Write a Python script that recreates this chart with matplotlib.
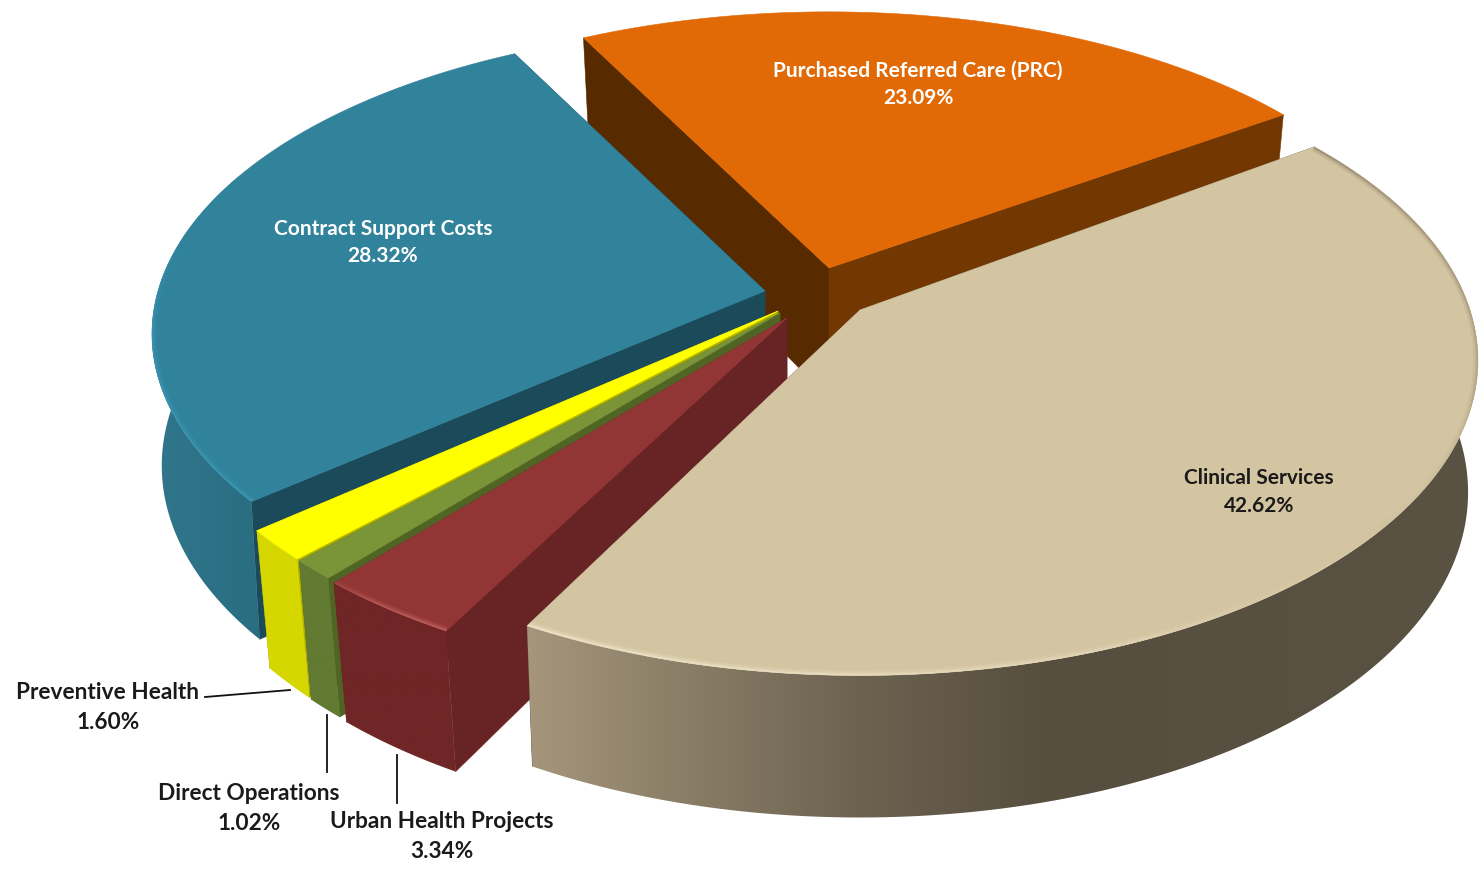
import numpy as np
import matplotlib
matplotlib.use("Agg")
import matplotlib.pyplot as plt
from matplotlib.collections import LineCollection
from matplotlib.patches import Polygon

# data, clockwise from the split between PRC and Clinical Services
names = ["Clinical Services", "Urban Health Projects", "Direct Operations",
         "Preventive Health", "Contract Support Costs", "Purchased Referred Care (PRC)"]
shares = [42.62, 3.34, 1.02, 1.60, 28.32, 23.09]

# colours
top_colors = ["#d4c5a2", "#923635", "#7a9438", "#ffff00", "#31829b", "#e26a06"]
start_wall_colors = ["#5a5040", "#682424", "#506423", "#b0b000", "#1b4b5a", "#582a00"]
end_wall_colors = ["#5a5040", "#682424", "#506423", "#b0b000", "#1b4b5a", "#733702"]
rim_colors = ["#f4ecd2", "#cf7070", "#94ae50", "#ffff60", "#3f9fbe", "#e26a06"]

# view of the exploded pie
START_ANGLE = 34.5
NUDGE = [1.0, 0, 0, 0, 0, 0]
K = [0.16, 0.14, 0.14, 0.14, 0.14, 0.14]
RX = [610, 618, 616, 616, 607, 595]
RY = [307, 314, 314, 314, 301, 292]
APEX_X = [860, 787, 780, 778, 765, 829]
APEX_Y = [310, 318, 313, 311, 291, 268]
TAPER = [0.016, 0.028, 0.025, 0.025, 0.016, 0.025]
DEPTH = 130
DEPTH_NEAR = 12


def project(theta, i):
    x = np.cos(theta)
    y = -np.sin(theta)  # y grows towards the viewer
    f = 1 / (1 - K[i] * y)
    return APEX_X[i] + RX[i] * x * f, APEX_Y[i] + RY[i] * y * f, y


def drop(px, py, y, i):
    # same point on the underside of the pie
    return px + (APEX_X[i] - px) * TAPER[i], py + DEPTH + DEPTH_NEAR * y


def mix(stops, pos):
    pos = np.asarray(pos)
    xs = [s[0] for s in stops]
    rgb = np.array([s[1] for s in stops], dtype=float) / 255
    return np.column_stack([np.interp(pos, xs, rgb[:, c]) for c in range(3)])


def wall_colors(i, u):
    if i == 0:
        return mix([(-0.55, (166, 150, 124)), (-0.25, (134, 122, 100)), (0.0, (108, 98, 80)),
                    (0.31, (86, 78, 62)), (1.1, (90, 82, 66))], u)
    if i == 1:
        return mix([(-1, (112, 38, 38)), (1, (112, 38, 38))], u)
    if i == 2:
        return mix([(-1, (98, 122, 50)), (1, (98, 122, 50))], u)
    if i == 3:
        return mix([(-1, (214, 214, 0)), (1, (214, 214, 0))], u)
    if i == 4:
        return mix([(-1.05, (50, 120, 142)), (-0.85, (42, 110, 130)), (1, (42, 110, 130))], u)
    return mix([(-1, (115, 55, 2)), (1, (115, 55, 2))], u)


def draw_slice(ax, i, a0, a1, z):
    theta = np.radians(np.linspace(a0, a1, 240) + NUDGE[i])
    px, py, y = project(theta, i)
    bx, by = drop(px, py, y, i)
    ax_, ay_ = APEX_X[i], APEX_Y[i]
    bax, bay = drop(ax_, ay_, 0.0, i)

    # cut faces
    ax.add_patch(Polygon([(ax_, ay_), (px[0], py[0]), (bx[0], by[0]), (bax, bay)],
                         fc=start_wall_colors[i], ec=start_wall_colors[i], lw=0.4, zorder=z))
    ax.add_patch(Polygon([(ax_, ay_), (px[-1], py[-1]), (bx[-1], by[-1]), (bax, bay)],
                         fc=end_wall_colors[i], ec=end_wall_colors[i], lw=0.4, zorder=z + 0.1))

    # outer wall, only the part facing the viewer, shaded from left to right
    front = y > -0.4
    if front.sum() > 1:
        x0, x1 = min(px[front].min(), bx[front].min()) - 2, max(px[front].max(), bx[front].max()) + 2
        y0, y1 = py[front].min() - 2, by[front].max() + 2
        xs = np.linspace(x0, x1, 600)
        shade = wall_colors(i, (xs - APEX_X[i]) / RX[i])[np.newaxis, :, :]
        im = ax.imshow(shade, extent=(x0, x1, y1, y0), aspect="auto", zorder=z + 0.2,
                       interpolation="bilinear")
        outline = Polygon(np.column_stack([np.r_[px[front], bx[front][::-1]],
                                           np.r_[py[front], by[front][::-1]]]),
                          transform=ax.transData, fc="none", ec="none")
        im.set_clip_path(outline)

    # top face
    top = Polygon(np.column_stack([np.r_[ax_, px], np.r_[ay_, py]]), fc=top_colors[i],
                  ec=top_colors[i], lw=0.4, zorder=z + 0.3)
    ax.add_patch(top)

    # soft bevel along the rim
    segs = np.stack([np.column_stack([px[:-1], py[:-1]]), np.column_stack([px[1:], py[1:]])], axis=1)
    deg = np.degrees((theta[:-1] + theta[1:]) / 2)
    rim = np.array(matplotlib.colors.to_rgb(rim_colors[i]))
    rgb = np.tile(rim, (len(deg), 1))
    alphas = np.zeros(len(deg))
    if i == 0:
        rgb = mix([(-119, (246, 238, 212)), (-70, (232, 220, 190)), (-35, (205, 190, 155)),
                   (-15, (160, 148, 120)), (35, (120, 110, 90))], deg)
        alphas = np.interp(deg, [-119, -60, -35, -15, 35], [0.9, 0.7, 0.15, 0.55, 0.65])
    elif i == 4:
        d = np.mod(deg, 360)
        alphas = np.interp(d, [120, 165, 190, 220], [0, 0.0, 0.6, 0.7])
    elif i == 1:
        alphas = np.interp(deg, [-131, -126, -119], [0.25, 0.7, 0.9])
    for lw, scale in [(7, 0.25), (4, 0.4), (2, 0.6)]:
        lc = LineCollection(segs, colors=np.column_stack([rgb, alphas * scale]), linewidths=lw,
                            capstyle="butt", zorder=z + 0.4)
        ax.add_collection(lc)
        lc.set_clip_path(top)


fig = plt.figure(figsize=(14.8, 8.72), dpi=100)
ax = fig.add_axes([0, 0, 1, 1])
ax.axis("off")

spans = np.array(shares) / sum(shares) * 360
starts = START_ANGLE - np.r_[0, np.cumsum(spans)[:-1]]
ends = starts - spans

# back to front
for z, i in enumerate([5, 4, 3, 2, 1, 0]):
    draw_slice(ax, i, starts[i], ends[i], 2 * z + 1)

ax.set_xlim(0, 1480)
ax.set_ylim(872, 0)

# leader lines
ax.plot([205, 290], [697, 690], color="#111111", lw=1.3, zorder=20)
ax.plot([327, 327], [715, 772], color="#111111", lw=1.3, zorder=20)
ax.plot([397, 397], [755, 803], color="#111111", lw=1.3, zorder=20)

# labels
label_x = [1259, 442, 249, 108, 383, 918]
label_y = [478, 821, 793, 692, 229, 71]
label_gap = [28, 30, 30, 30, 27, 27]
label_size = [15, 16.3, 16.3, 16.3, 15, 15]
label_colors = ["#1a1a1a", "#1a1a1a", "#1a1a1a", "#1a1a1a", "white", "white"]
for i in range(len(names)):
    for txt, yy in [(names[i], label_y[i]), (f"{shares[i]:.2f}%", label_y[i] + label_gap[i])]:
        ax.text(label_x[i], yy, txt, ha="center", va="center", color=label_colors[i],
                family="Lato", weight="bold", fontsize=label_size[i], zorder=30)

fig.savefig("out.png", dpi=100)
